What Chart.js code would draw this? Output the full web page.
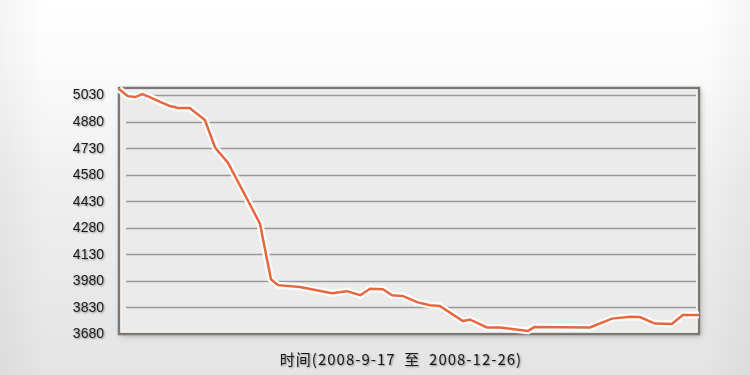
<!DOCTYPE html>
<html><head><meta charset="utf-8">
<script src="https://cdn.jsdelivr.net/npm/chart.js@4.4.0/dist/chart.umd.min.js"></script>
<style>html,body{margin:0;padding:0;background:#fff;}canvas{display:block;}</style>
</head><body>
<canvas id="c" width="750" height="375"></canvas>
<script>
// Day offsets from 2008-09-17 (x) and index values (y)
const dayOffsets = [0, 1.5, 2.8, 4, 5.3, 7.1, 8.8, 10.2, 12.2, 14.8, 16.6, 18.8, 21.7, 24.3, 26.2, 27.4, 31.2, 36.7, 39.3, 41.6, 43.3, 45.5, 47.1, 49, 51.4, 53.6, 55.3, 59.3, 60.5, 63.4, 65.7, 70.5, 71.6, 81.2, 85, 88.1, 89.8, 92.4, 95.3, 97.2, 100];
const indexValues = [5064, 5024, 5019, 5036, 5019, 4991, 4968, 4957, 4957, 4889, 4732, 4647, 4467, 4304, 3989, 3956, 3945, 3911, 3922, 3899, 3936, 3933, 3899, 3894, 3860, 3843, 3838, 3753, 3762, 3717, 3717, 3697, 3719, 3717, 3767, 3778, 3776, 3739, 3737, 3787, 3787];
const yTicks = [3680, 3830, 3980, 4130, 4280, 4430, 4580, 4730, 4880, 5030];
const xTitle = '时间(2008-9-17  至  2008-12-26)';

const points = dayOffsets.map((d, i) => ({x: d, y: indexValues[i]}));

const decor = {
  id: 'decor',
  beforeDraw(chart) {
    const ctx = chart.ctx, W = chart.width, H = chart.height;
    ctx.save();
    const g = ctx.createLinearGradient(0, 0, 0, H);
    g.addColorStop(0, '#ffffff');
    g.addColorStop(0.18, '#fbfbfb');
    g.addColorStop(0.5, '#efefef');
    g.addColorStop(1, '#e4e4e4');
    ctx.fillStyle = g;
    ctx.fillRect(0, 0, W, H);
    const gl = ctx.createLinearGradient(0, 0, W, 0);
    gl.addColorStop(0, 'rgba(0,0,0,0.04)');
    gl.addColorStop(0.06, 'rgba(0,0,0,0)');
    gl.addColorStop(0.94, 'rgba(0,0,0,0)');
    gl.addColorStop(1, 'rgba(0,0,0,0.04)');
    ctx.fillStyle = gl;
    ctx.fillRect(0, 0, W, H);
    const a = chart.chartArea;
    ctx.shadowColor = 'rgba(0,0,0,0.25)';
    ctx.shadowBlur = 6;
    ctx.shadowOffsetX = 2;
    ctx.shadowOffsetY = 2;
    ctx.fillStyle = '#ebebeb';
    ctx.fillRect(a.left, a.top, a.right - a.left, a.bottom - a.top);
    ctx.restore();
  },
  beforeDatasetsDraw(chart) {
    const ctx = chart.ctx, a = chart.chartArea, ys = chart.scales.y;
    ctx.save();
    ctx.strokeStyle = '#9b9896';
    ctx.lineWidth = 1.5;
    yTicks.forEach(v => {
      if (v === yTicks[0]) return;
      const py = Math.round(ys.getPixelForValue(v)) + 0.5;
      ctx.beginPath();
      ctx.moveTo(a.left + 7, py);
      ctx.lineTo(a.right - 3, py);
      ctx.stroke();
    });
    ctx.strokeStyle = '#7d7874';
    ctx.lineWidth = 2.5;
    ctx.strokeRect(a.left, a.top, a.right - a.left, a.bottom - a.top);
    ctx.strokeStyle = 'rgba(255,255,255,0.7)';
    ctx.lineWidth = 1;
    ctx.strokeRect(a.left + 2, a.top + 2, a.right - a.left - 4, a.bottom - a.top - 4);
    ctx.restore();
  },
  afterDraw(chart) {
    const ctx = chart.ctx, ys = chart.scales.y;
    ctx.save();
    ctx.shadowColor = 'rgba(0,0,0,0.4)';
    ctx.shadowBlur = 2;
    ctx.shadowOffsetX = 1;
    ctx.shadowOffsetY = 1;
    ctx.fillStyle = '#1a1a1a';
    ctx.font = '500 14px "Liberation Sans", Arial, sans-serif';
    ctx.textAlign = 'right';
    ctx.textBaseline = 'middle';
    ys.ticks.forEach(t => {
      ctx.fillText(String(t.value), 104, ys.getPixelForValue(t.value) + 0.5);
    });
    ctx.font = '15px "Noto Sans CJK SC", "Liberation Sans", sans-serif';
    ctx.letterSpacing = '1px';
    ctx.textAlign = 'center';
    ctx.fillText(xTitle, 401, 359);
    ctx.restore();
  }
};

new Chart(document.getElementById('c'), {
  type: 'line',
  data: {
    datasets: [
      {data: points, borderColor: '#e8663e', borderWidth: 2.5, pointRadius: 0, tension: 0, clip: 4, order: 0},
      {data: points, borderColor: 'rgba(255,255,255,0.95)', borderWidth: 7, pointRadius: 0, tension: 0, clip: 4, order: 1}
    ]
  },
  options: {
    responsive: false,
    animation: false,
    devicePixelRatio: 1,
    layout: {padding: {left: 0, right: 51, top: 88, bottom: 41}},
    plugins: {legend: {display: false}, tooltip: {enabled: false}},
    scales: {
      x: {type: 'linear', min: 0, max: 100, display: false},
      y: {
        min: 3680, max: 5070,
        afterBuildTicks: s => { s.ticks = yTicks.map(v => ({value: v})); },
        afterFit: s => { s.width = 119; },
        grid: {display: false},
        border: {display: false},
        ticks: {display: false}
      }
    }
  },
  plugins: [decor]
});
</script>
</body></html>
